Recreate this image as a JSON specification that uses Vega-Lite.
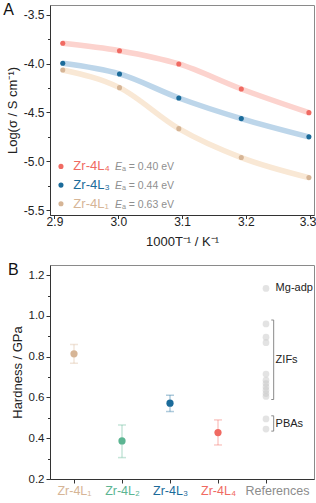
{
  "$schema": "https://vega.github.io/schema/vega-lite/v6.json",
  "padding": {"left": 2, "top": 1, "right": 0, "bottom": 0},
  "spacing": 12,
  "config": {
    "font": "Liberation Sans",
    "view": {"stroke": "#8a8a8a", "strokeWidth": 1},
    "axis": {"domainColor": "#333", "tickColor": "#333", "labelColor": "#222", "titleColor": "#222", "labelFontSize": 12, "titleFontSize": 13, "titleFontWeight": "normal", "grid": false, "labelFont": "Liberation Sans", "titleFont": "Liberation Sans"},
    "title": {"fontSize": 16, "fontWeight": "normal", "anchor": "start", "frame": "bounds", "color": "#111", "font": "Liberation Sans", "dx": -3}
  },
  "datasets": {
    "cond": [
      {"series": "Zr-4L₄", "invT": 2.913, "logS": -3.792},
      {"series": "Zr-4L₄", "invT": 3.002, "logS": -3.868},
      {"series": "Zr-4L₄", "invT": 3.095, "logS": -4.004},
      {"series": "Zr-4L₄", "invT": 3.193, "logS": -4.260},
      {"series": "Zr-4L₄", "invT": 3.299, "logS": -4.502},
      {"series": "Zr-4L₃", "invT": 2.913, "logS": -3.997},
      {"series": "Zr-4L₃", "invT": 3.002, "logS": -4.106},
      {"series": "Zr-4L₃", "invT": 3.095, "logS": -4.352},
      {"series": "Zr-4L₃", "invT": 3.193, "logS": -4.563},
      {"series": "Zr-4L₃", "invT": 3.299, "logS": -4.750},
      {"series": "Zr-4L₁", "invT": 2.913, "logS": -4.065},
      {"series": "Zr-4L₁", "invT": 3.002, "logS": -4.246},
      {"series": "Zr-4L₁", "invT": 3.095, "logS": -4.666},
      {"series": "Zr-4L₁", "invT": 3.193, "logS": -4.962},
      {"series": "Zr-4L₁", "invT": 3.299, "logS": -5.167}
    ],
    "leg": [
      {"series": "Zr-4L₄", "ea": "ₐ = 0.40 eV", "rank": 1},
      {"series": "Zr-4L₃", "ea": "ₐ = 0.44 eV", "rank": 2},
      {"series": "Zr-4L₁", "ea": "ₐ = 0.63 eV", "rank": 3}
    ],
    "hard": [
      {"sample": "Zr-4L₁", "pos": 1, "h": 0.814, "lo": 0.768, "hi": 0.860},
      {"sample": "Zr-4L₂", "pos": 2, "h": 0.387, "lo": 0.305, "hi": 0.465},
      {"sample": "Zr-4L₃", "pos": 3, "h": 0.572, "lo": 0.531, "hi": 0.611},
      {"sample": "Zr-4L₄", "pos": 4, "h": 0.428, "lo": 0.367, "hi": 0.490}
    ],
    "refs": [
      {"group": "Mg-adp", "pos": 5, "h": 1.135},
      {"group": "ZIFs", "pos": 5, "h": 0.961},
      {"group": "ZIFs", "pos": 5, "h": 0.896},
      {"group": "ZIFs", "pos": 5, "h": 0.869},
      {"group": "ZIFs", "pos": 5, "h": 0.715},
      {"group": "ZIFs", "pos": 5, "h": 0.685},
      {"group": "ZIFs", "pos": 5, "h": 0.668},
      {"group": "ZIFs", "pos": 5, "h": 0.652},
      {"group": "ZIFs", "pos": 5, "h": 0.636},
      {"group": "ZIFs", "pos": 5, "h": 0.619},
      {"group": "ZIFs", "pos": 5, "h": 0.605},
      {"group": "PBAs", "pos": 5, "h": 0.495},
      {"group": "PBAs", "pos": 5, "h": 0.445}
    ],
    "groups": [
      {"group": "Mg-adp", "mid": 1.136},
      {"group": "ZIFs", "lo": 0.59, "hi": 0.98, "mid": 0.783},
      {"group": "PBAs", "lo": 0.435, "hi": 0.51, "mid": 0.471}
    ]
  },
  "resolve": {"scale": {"fill": "independent", "stroke": "independent"}},
  "vconcat": [
    {
      "width": 264,
      "height": 210,
      "title": {"text": "A", "offset": -13},
      "layer": [
        {
          "data": {"name": "cond"},
          "encoding": {
            "x": {"field": "invT", "type": "quantitative",
              "scale": {"domain": [2.893, 3.307], "nice": false, "zero": false},
              "axis": {"title": "1000T⁻¹ / K⁻¹", "values": [2.9, 2.95, 3.0, 3.05, 3.1, 3.15, 3.2, 3.25, 3.3],
                "labelExpr": "abs(datum.value*10 - round(datum.value*10)) < 0.01 ? format(datum.value, '.1f') : ''",
                "labelFlush": false, "labelOverlap": false, "labelBound": false, "labelPadding": -2, "titlePadding": 8,
                "labelOffset": {"condition": {"test": "datum.value > 3.29", "value": -2}, "value": 0},
                "tickSize": {"condition": {"test": "abs(datum.value*10 - round(datum.value*10)) < 0.01", "value": 3.5}, "value": 2.5}}},
            "y": {"field": "logS", "type": "quantitative",
              "scale": {"domain": [-5.55, -3.4], "nice": false, "zero": false},
              "axis": {"title": "Log(σ / S cm⁻¹)", "values": [-5.5, -5.25, -5.0, -4.75, -4.5, -4.25, -4.0, -3.75, -3.5],
                "labelExpr": "abs(datum.value*2 - round(datum.value*2)) < 0.01 ? replace(format(datum.value, '.1f'), '−', '-') : ''",
                "labelOverlap": false, "labelPadding": 2, "titlePadding": 4,
                "tickSize": {"condition": {"test": "abs(datum.value*2 - round(datum.value*2)) < 0.01", "value": 4}, "value": 2.5}}}
          },
          "layer": [
            {"mark": {"type": "line", "interpolate": "monotone", "strokeWidth": 5.5},
             "encoding": {"stroke": {"field": "series", "type": "nominal", "legend": null,
               "scale": {"domain": ["Zr-4L₄", "Zr-4L₃", "Zr-4L₁"], "range": ["#fcd3ce", "#bdd6ea", "#f9e8d5"]}}}},
            {"mark": {"type": "circle", "size": 26, "opacity": 1},
             "encoding": {"fill": {"field": "series", "type": "nominal", "legend": null,
               "scale": {"domain": ["Zr-4L₄", "Zr-4L₃", "Zr-4L₁"], "range": ["#f06a62", "#1b6b9a", "#d6b596"]}}}}
          ]
        },
        {
          "data": {"name": "leg"},
          "encoding": {
            "x": {"datum": 2.9102, "type": "quantitative"},
            "y": {"field": "rank", "type": "quantitative", "axis": null,
              "scale": {"domain": [-7.63, 3.6], "reverse": true, "nice": false, "zero": false}}
          },
          "layer": [
            {"mark": {"type": "circle", "size": 26, "opacity": 1},
             "encoding": {"fill": {"field": "series", "type": "nominal", "legend": null}}},
            {"mark": {"type": "text", "align": "left", "baseline": "middle", "dx": 12.4, "fontSize": 13},
             "encoding": {"text": {"field": "series"}, "fill": {"field": "series", "type": "nominal", "legend": null}}},
            {"mark": {"type": "text", "align": "left", "baseline": "middle", "dx": 54, "dy": 1, "fontSize": 10.5, "fontStyle": "italic", "color": "#8f8f8f"},
             "encoding": {"text": {"value": "E"}}},
            {"mark": {"type": "text", "align": "left", "baseline": "middle", "dx": 61, "dy": 1, "fontSize": 10.5, "color": "#8f8f8f"},
             "encoding": {"text": {"field": "ea"}}}
          ]
        }
      ],
      "resolve": {"scale": {"y": "independent"}}
    },
    {
      "width": 264,
      "height": 214,
      "title": {"text": "B", "offset": -13},
      "encoding": {
        "x": {"type": "quantitative",
          "scale": {"domain": [0.5, 6], "nice": false, "zero": false},
          "axis": {"title": null, "values": [1, 2, 3, 4, 5], "labelFontSize": 12.5,
            "labelExpr": "datum.value == 1 ? 'Zr-4L₁' : datum.value == 2 ? 'Zr-4L₂' : datum.value == 3 ? 'Zr-4L₃' : datum.value == 4 ? 'Zr-4L₄' : 'References'",
            "labelFlush": false, "labelOverlap": false, "labelBound": false, "tickSize": 4, "labelPadding": 1,
            "labelOffset": {"condition": {"test": "datum.value == 5", "value": 11}, "value": 0},
            "labelColor": {"condition": [
              {"test": "datum.value == 1", "value": "#d6b596"},
              {"test": "datum.value == 2", "value": "#5cb592"},
              {"test": "datum.value == 3", "value": "#1b6b9a"},
              {"test": "datum.value == 4", "value": "#f06a62"}], "value": "#8c8c8c"}}},
        "y": {"type": "quantitative",
          "scale": {"domain": [0.2, 1.25], "nice": false, "zero": false},
          "axis": {"title": "Hardness / GPa", "values": [0.2, 0.3, 0.4, 0.5, 0.6, 0.7, 0.8, 0.9, 1.0, 1.1, 1.2], "labelFontSize": 11.5,
            "labelExpr": "round(datum.value*10) % 2 == 0 ? format(datum.value, '.1f') : ''",
            "labelOverlap": false, "labelPadding": 2, "titlePadding": 4,
            "tickSize": {"condition": {"test": "round(datum.value*10) % 2 == 0", "value": 4}, "value": 2.5}}}
      },
      "layer": [
        {"data": {"name": "hard"}, "mark": {"type": "rule", "strokeWidth": 1.5, "opacity": 0.35},
         "encoding": {"x": {"field": "pos"}, "y": {"field": "lo"}, "y2": {"field": "hi"},
           "stroke": {"field": "sample", "type": "nominal", "legend": null,
             "scale": {"domain": ["Zr-4L₁", "Zr-4L₂", "Zr-4L₃", "Zr-4L₄"], "range": ["#d6b596", "#5cb592", "#1b6b9a", "#f06a62"]}}}},
        {"data": {"name": "hard"}, "mark": {"type": "tick", "orient": "horizontal", "size": 8, "thickness": 1.5, "opacity": 0.35},
         "encoding": {"x": {"field": "pos"}, "y": {"field": "lo"},
           "fill": {"field": "sample", "type": "nominal", "legend": null,
             "scale": {"domain": ["Zr-4L₁", "Zr-4L₂", "Zr-4L₃", "Zr-4L₄"], "range": ["#d6b596", "#5cb592", "#1b6b9a", "#f06a62"]}}}},
        {"data": {"name": "hard"}, "mark": {"type": "tick", "orient": "horizontal", "size": 8, "thickness": 1.5, "opacity": 0.35},
         "encoding": {"x": {"field": "pos"}, "y": {"field": "hi"},
           "fill": {"field": "sample", "type": "nominal", "legend": null}}},
        {"data": {"name": "hard"}, "mark": {"type": "circle", "size": 52, "opacity": 1},
         "encoding": {"x": {"field": "pos"}, "y": {"field": "h"},
           "fill": {"field": "sample", "type": "nominal", "legend": null}}},
        {"data": {"name": "refs"}, "mark": {"type": "circle", "size": 45, "opacity": 0.5, "color": "#c8c8c8"},
         "encoding": {"x": {"field": "pos"}, "y": {"field": "h"}}},
        {"data": {"name": "groups"}, "transform": [{"filter": "isValid(datum.lo)"}],
         "mark": {"type": "rule", "color": "#8a8a8a", "strokeWidth": 1},
         "encoding": {"x": {"datum": 5.16}, "y": {"field": "lo"}, "y2": {"field": "hi"}}},
        {"data": {"name": "groups"}, "transform": [{"filter": "isValid(datum.lo)"}],
         "mark": {"type": "rule", "color": "#8a8a8a", "strokeWidth": 1},
         "encoding": {"x": {"datum": 5.11}, "x2": {"datum": 5.16}, "y": {"field": "lo"}}},
        {"data": {"name": "groups"}, "transform": [{"filter": "isValid(datum.lo)"}],
         "mark": {"type": "rule", "color": "#8a8a8a", "strokeWidth": 1},
         "encoding": {"x": {"datum": 5.11}, "x2": {"datum": 5.16}, "y": {"field": "hi"}}},
        {"data": {"name": "groups"},
         "mark": {"type": "text", "align": "left", "baseline": "middle", "fontSize": 11, "color": "#222"},
         "encoding": {"x": {"datum": 5.2}, "y": {"field": "mid"}, "text": {"field": "group"}}}
      ]
    }
  ]
}
